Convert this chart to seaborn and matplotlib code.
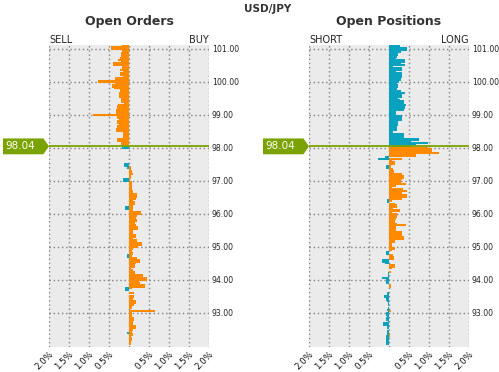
#sentimen USD/JPY: open orders & open positions

import numpy as np
import pandas as pd
import matplotlib
matplotlib.use('Agg')
import matplotlib.pyplot as plt
import matplotlib.transforms as mtransforms
from matplotlib.patches import Polygon
import seaborn as sns

#data
pair = 'USD/JPY'
last_price = 98.04

#level harga, step 0.05
levels_above = np.round(101.10 - 0.05 * np.arange(62), 2)   # 101.10 .. 98.05
levels_below = np.round(98.00 - 0.05 * np.arange(120), 2)   # 98.00 .. 92.05

#open orders (% dari total)
orders_sell = [0.18, 0.45, 0.45, 0.18, 0.17, 0.19, 0.21, 0.21, 0.22, 0.27,
               0.21, 0.39, 0.39, 0.18, 0.18, 0.22, 0.14, 0.22, 0.22, 0.14,
               0.35, 0.35, 0.77, 0.35, 0.42, 0.42, 0.37, 0.23, 0.23, 0.25,
               0.25, 0.25, 0.21, 0.19, 0.19, 0.12, 0.27, 0.29, 0.29, 0.32,
               0.33, 0.33, 0.90, 0.29, 0.29, 0.26, 0.29, 0.29, 0.26, 0.29,
               0.29, 0.32, 0.32, 0.15, 0.14, 0.14, 0.15, 0.29, 0.29, 0.21,
               0.21, 0.11]
orders_buy = [0.00, 0.00, 0.00, 0.00, 0.00, 0.00, 0.00, 0.00, 0.00, 0.00,
              0.00, 0.00, 0.05, 0.05, 0.07, 0.07, 0.10, 0.05, 0.05, 0.03,
              0.00, 0.08, 0.08, 0.08, 0.07, 0.07, 0.11, 0.11, 0.19, 0.20,
              0.20, 0.18, 0.11, 0.14, 0.14, 0.09, 0.11, 0.11, 0.11, 0.30,
              0.30, 0.19, 0.17, 0.17, 0.20, 0.15, 0.15, 0.18, 0.22, 0.22,
              0.11, 0.11, 0.11, 0.17, 0.17, 0.11, 0.19, 0.19, 0.32, 0.32,
              0.22, 0.11, 0.08, 0.08, 0.11, 0.08, 0.08, 0.21, 0.27, 0.27,
              0.17, 0.15, 0.15, 0.05, 0.11, 0.15, 0.15, 0.36, 0.36, 0.46,
              0.46, 0.25, 0.27, 0.40, 0.40, 0.07, 0.00, 0.00, 0.12, 0.00,
              0.12, 0.09, 0.09, 0.17, 0.17, 0.13, 0.08, 0.08, 0.00, 0.65,
              0.08, 0.08, 0.08, 0.12, 0.12, 0.10, 0.09, 0.09, 0.18, 0.18,
              0.09, 0.07, 0.07, 0.10, 0.06, 0.07, 0.07, 0.05, 0.05, 0.05]
orders_teal_price = [98.00, 97.50, 97.45, 97.40, 97.05, 97.00, 96.20, 96.15,
                     94.75, 94.70, 93.75, 93.70, 92.40]
orders_teal_pct = [0.18, 0.13, 0.13, 0.04, 0.15, 0.15, 0.10, 0.10,
                   0.04, 0.04, 0.10, 0.10, 0.04]

#open positions (% dari total)
pos_long_above = [0.28, 0.28, 0.45, 0.45, 0.30, 0.22, 0.22, 0.19, 0.17, 0.40,
                  0.40, 0.30, 0.40, 0.11, 0.32, 0.32, 0.17, 0.32, 0.32, 0.32,
                  0.30, 0.30, 0.25, 0.21, 0.22, 0.22, 0.21, 0.21, 0.30, 0.40,
                  0.32, 0.32, 0.23, 0.28, 0.37, 0.37, 0.42, 0.40, 0.40, 0.38,
                  0.17, 0.17, 0.17, 0.32, 0.32, 0.32, 0.22, 0.23, 0.23, 0.20,
                  0.19, 0.19, 0.11, 0.11, 0.37, 0.37, 0.37, 0.76, 0.55, 0.97,
                  0.67, 0.55]
pos_long_below = [0.98, 1.07, 1.07, 1.25, 0.67, 0.67, 0.00, 0.32, 0.07, 0.15,
                  0.15, 0.05, 0.05, 0.10, 0.13, 0.13, 0.32, 0.37, 0.37, 0.32,
                  0.29, 0.29, 0.42, 0.17, 0.08, 0.36, 0.44, 0.32, 0.32, 0.44,
                  0.44, 0.32, 0.07, 0.00, 0.15, 0.19, 0.19, 0.11, 0.27, 0.07,
                  0.21, 0.21, 0.19, 0.17, 0.15, 0.15, 0.20, 0.42, 0.17, 0.17,
                  0.17, 0.32, 0.32, 0.32, 0.37, 0.37, 0.15, 0.15, 0.08, 0.08,
                  0.08, 0.15, 0.07, 0.00, 0.00, 0.11, 0.12, 0.12, 0.00, 0.00,
                  0.00, 0.15, 0.15, 0.07, 0.00, 0.05, 0.00, 0.00, 0.00, 0.00,
                  0.00, 0.00, 0.00, 0.04, 0.04, 0.01, 0.00, 0.00, 0.00, 0.00,
                  0.00, 0.00, 0.00, 0.00, 0.00, 0.00, 0.00, 0.00, 0.00, 0.04,
                  0.00, 0.00, 0.00, 0.00, 0.00, 0.00, 0.00, 0.00, 0.00, 0.00,
                  0.00, 0.00, 0.00, 0.03, 0.02, 0.00, 0.00, 0.00, 0.00, 0.00]
pos_short_below = [0.00, 0.00, 0.00, 0.00, 0.00, 0.00, 0.10, 0.27, 0.00, 0.00,
                   0.00, 0.08, 0.08, 0.00, 0.00, 0.00, 0.00, 0.00, 0.00, 0.00,
                   0.00, 0.00, 0.00, 0.00, 0.00, 0.00, 0.00, 0.00, 0.00, 0.00,
                   0.00, 0.00, 0.05, 0.05, 0.00, 0.00, 0.00, 0.00, 0.00, 0.00,
                   0.00, 0.00, 0.00, 0.00, 0.00, 0.00, 0.00, 0.00, 0.00, 0.00,
                   0.00, 0.00, 0.00, 0.00, 0.00, 0.00, 0.00, 0.00, 0.00, 0.00,
                   0.00, 0.00, 0.00, 0.07, 0.07, 0.00, 0.00, 0.00, 0.17, 0.17,
                   0.10, 0.00, 0.00, 0.00, 0.00, 0.00, 0.03, 0.03, 0.03, 0.17,
                   0.08, 0.08, 0.08, 0.00, 0.00, 0.00, 0.00, 0.00, 0.05, 0.05,
                   0.12, 0.08, 0.08, 0.05, 0.03, 0.03, 0.00, 0.03, 0.05, 0.03,
                   0.08, 0.08, 0.05, 0.08, 0.08, 0.03, 0.15, 0.15, 0.05, 0.05,
                   0.00, 0.05, 0.05, 0.05, 0.08, 0.08, 0.08, 0.08, 0.08, 0.08]

x_ticks = [-2.0, -1.5, -1.0, -0.5, 0.0, 0.5, 1.0, 1.5, 2.0]
x_labels = ['2.0%', '1.5%', '1.0%', '0.5%', '', '0.5%', '1.0%', '1.5%', '2.0%']
y_ticks = [93, 94, 95, 96, 97, 98, 99, 100, 101]

ORANGE = '#FF8A00'
TEAL = '#0AA2BF'
GREEN = '#7BA300'

#teal orders jadi satu array penuh
teal_map = dict(zip(orders_teal_price, orders_teal_pct))
orders_teal = [teal_map.get(round(float(p), 2), 0.0) for p in levels_below]

sns.set_style('white')
plt.rcParams['font.family'] = ['DejaVu Sans']

fig = plt.figure(figsize=(4.99, 3.72), dpi=100)
ax1 = fig.add_axes([49 / 499, 25 / 372, 160 / 499, 302 / 372])
ax2 = fig.add_axes([309 / 499, 25 / 372, 160 / 499, 302 / 372])


def panel(ax, bars, title, left_txt, right_txt):
    for prices, vals, col in bars:
        df = pd.DataFrame({'price': prices, 'pct': vals})
        sns.barplot(data=df, x='pct', y='price', orient='y', native_scale=True,
                    width=1.35, color=col, saturation=1, errorbar=None,
                    linewidth=0, antialiased=False, ax=ax)
    ax.set_facecolor('#EBEBEB')
    ax.set_xlim(-2, 2)
    ax.set_ylim(91.97, 101.106)
    ax.set_xlabel('')
    ax.set_ylabel('')

    ax.set_xticks(x_ticks)
    ax.set_xticklabels(x_labels, rotation=45, ha='right', va='top',
                       rotation_mode='anchor', fontsize=6.2, color='#111111')
    ax.set_yticks(y_ticks)
    ax.set_yticklabels([f'{v:.2f}' for v in y_ticks], fontsize=5.6, color='#222222')
    ax.yaxis.tick_right()
    ax.tick_params(axis='y', length=0, pad=2)
    ax.tick_params(axis='x', length=0, pad=1.5)
    ax.grid(True, linestyle=(0, (1, 2)), color='#808080', linewidth=1)
    ax.set_axisbelow(True)
    for s in ax.spines.values():
        s.set_visible(False)

    #garis harga terakhir + label
    ax.axhline(last_price, color=GREEN, lw=1.3, zorder=4)
    trans = mtransforms.blended_transform_factory(ax.transAxes, ax.transData)
    h = 0.24
    tag = Polygon([(-0.2875, last_price + h), (-0.035, last_price + h), (0, last_price),
                   (-0.035, last_price - h), (-0.2875, last_price - h)],
                  closed=True, transform=trans, facecolor=GREEN, edgecolor='none',
                  clip_on=False, zorder=5)
    ax.add_patch(tag)
    ax.text(-0.275, last_price, f'{last_price:.2f}', transform=trans, ha='left',
            va='center', color='white', fontsize=7.5, zorder=6)

    ax.text(0, 1.0, left_txt, transform=ax.transAxes, ha='left', va='bottom',
            fontsize=7, color='#222222')
    ax.text(1, 1.0, right_txt, transform=ax.transAxes, ha='right', va='bottom',
            fontsize=7, color='#222222')
    ax.text(0.5, 1 + 23.5 / 302, title, transform=ax.transAxes, ha='center',
            va='center', fontsize=9, fontweight='bold', color='#333333')


panel(ax1,
      [(levels_above, -np.array(orders_sell), ORANGE),
       (levels_below, np.array(orders_buy), ORANGE),
       (levels_below, -np.array(orders_teal), TEAL)],
      'Open Orders', 'SELL', 'BUY')
panel(ax2,
      [(levels_above, np.array(pos_long_above), TEAL),
       (levels_below, np.array(pos_long_below), ORANGE),
       (levels_below, -np.array(pos_short_below), TEAL)],
      'Open Positions', 'SHORT', 'LONG')

fig.text(268 / 499, 1 - 9 / 372, pair, ha='center', va='center', fontsize=7.5,
         fontweight='bold', color='#333333')

fig.savefig('out.png', dpi=100)
